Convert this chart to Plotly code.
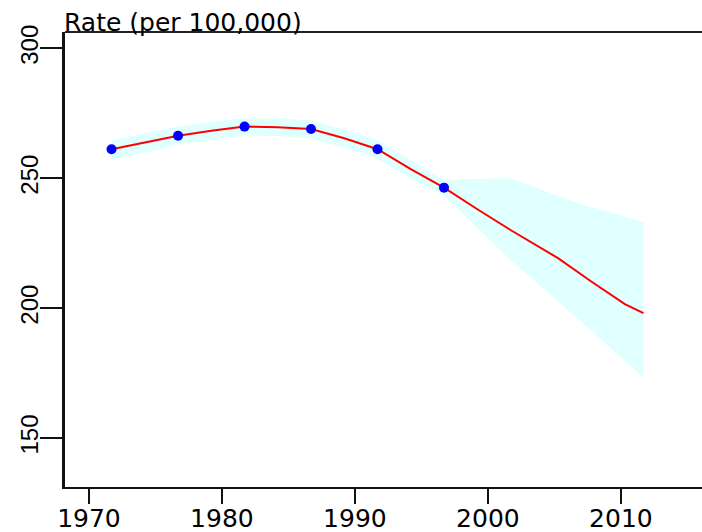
import plotly.graph_objects as go

# Observed rates (blue points)
obs_years = [1971.7, 1976.7, 1981.7, 1986.7, 1991.7, 1996.7]
obs_rate = [261.2, 266.4, 269.9, 269.0, 261.2, 246.4]

# Fitted / projected curve (red line)
fit_years = [1971.7, 1974.2, 1976.7, 1979.2, 1981.7, 1984.2, 1986.7, 1989.2,
             1991.7, 1994.2, 1996.7, 1999.3, 2001.7, 2005.3, 2007.8, 2010.3, 2011.7]
fit_rate = [261.2, 263.8, 266.4, 268.3, 269.9, 269.6, 269.0, 265.4,
            261.2, 253.5, 246.4, 237.8, 230.1, 219.2, 210.2, 201.6, 198.1]

# Confidence band (light cyan)
band_years = [1971.7, 1974.2, 1976.7, 1979.2, 1981.7, 1984.2, 1986.7, 1989.2,
              1991.7, 1994.2, 1996.7, 2001.7, 2006.7, 2011.7]
band_upper = [264.6, 267.3, 269.9, 271.8, 273.2, 273.0, 272.3, 268.8,
              264.7, 257.0, 249.4, 250.0, 240.5, 233.3]
band_lower = [256.9, 259.8, 262.9, 264.8, 266.6, 266.2, 265.3, 261.8,
              257.5, 249.8, 243.4, 218.6, 196.3, 173.2]

x_ticks = [1970, 1980, 1990, 2000, 2010]
y_ticks = [150, 200, 250, 300]
title_text = "Rate (per 100,000)"

fig = go.Figure()
fig.add_trace(go.Scatter(
    x=band_years + band_years[::-1],
    y=band_upper + band_lower[::-1],
    fill="toself", fillcolor="#E0FFFF",
    line=dict(width=0), mode="lines", hoverinfo="skip", showlegend=False))
fig.add_trace(go.Scatter(
    x=fit_years, y=fit_rate, mode="lines",
    line=dict(color="#FF0000", width=2), showlegend=False))
fig.add_trace(go.Scatter(
    x=obs_years, y=obs_rate, mode="markers",
    marker=dict(color="#0000FF", size=10), showlegend=False))

fig.update_layout(
    width=702, height=532,
    margin=dict(l=65, r=0, t=32, b=45, autoexpand=False),
    paper_bgcolor="white", plot_bgcolor="white",
    showlegend=False,
    xaxis=dict(range=[1968.2, 2016.1], tickvals=x_ticks,
               ticktext=[str(v) for v in x_ticks], automargin=False,
               ticks="outside", ticklen=15, tickwidth=2, tickcolor="#111",
               showline=True, linewidth=2, linecolor="#111",
               showgrid=False, zeroline=False, ticklabelstandoff=-7,
               tickfont=dict(family="DejaVu Sans", size=25, color="black")),
    yaxis=dict(range=[131.2, 306.3], tickvals=y_ticks,
               ticktext=[str(v) for v in y_ticks], tickangle=-90,
               automargin=False,
               ticks="outside", ticklen=22, tickwidth=2, tickcolor="#111",
               showline=True, linewidth=3, linecolor="#111",
               showgrid=False, zeroline=False, ticklabelstandoff=-8,
               tickfont=dict(family="Liberation Sans", size=24, color="black")),
    shapes=[dict(type="line", xref="paper", yref="paper", x0=0, x1=1, y0=1, y1=1,
                 line=dict(color="#222", width=2))],
    annotations=[dict(text=title_text, xref="paper", yref="paper", x=0, y=1,
                      xanchor="left", yanchor="bottom", showarrow=False,
                      xshift=-3, yshift=-7,
                      font=dict(family="DejaVu Sans", size=25, color="black"))],
)

fig.write_html("out.html")
